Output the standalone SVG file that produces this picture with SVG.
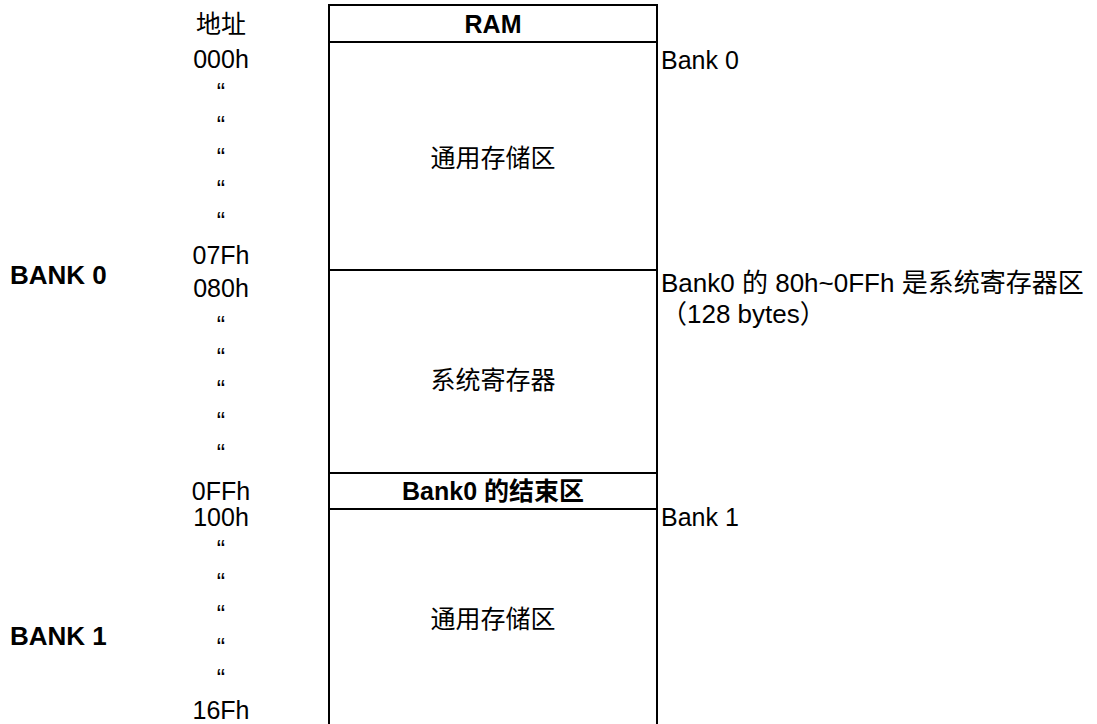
<svg xmlns="http://www.w3.org/2000/svg" width="1097" height="724" viewBox="0 0 1097 724">
<style>
text{font-family:"Liberation Sans","Noto Sans CJK SC",sans-serif;font-size:25px;fill:#000}
.b{font-weight:bold}
.c{text-anchor:middle}
.n{font-size:26px}
.ln{stroke:#000;stroke-width:2;fill:none}
</style>
<rect width="1097" height="724" fill="#fff"/>
<g id="ram-box">
<path class="ln" d="M329,724 V5 H657 V724"/>
<line class="ln" x1="329" y1="42" x2="657" y2="42"/>
<line class="ln" x1="329" y1="270" x2="657" y2="270"/>
<line class="ln" x1="329" y1="473" x2="657" y2="473"/>
<line class="ln" x1="329" y1="509" x2="657" y2="509"/>
<text class="b c" x="493" y="33">RAM</text>
</g>
<g id="general-0"><text class="c" x="493" y="167">通用存储区</text></g>
<g id="sysreg"><text class="c" x="493" y="389">系统寄存器</text></g>
<g id="bank0-end"><text class="b c" x="493" y="500">Bank0 的结束区</text></g>
<g id="general-1"><text class="c" x="493" y="628">通用存储区</text></g>
<g id="addresses">
<text class="c" x="221" y="33">地址</text>
<text class="c" x="221" y="68">000h</text>
<text class="c" x="221" y="101">“</text>
<text class="c" x="221" y="134">“</text>
<text class="c" x="221" y="166">“</text>
<text class="c" x="221" y="198">“</text>
<text class="c" x="221" y="230">“</text>
<text class="c" x="221" y="264">07Fh</text>
<text class="c" x="221" y="297">080h</text>
<text class="c" x="221" y="334">“</text>
<text class="c" x="221" y="366">“</text>
<text class="c" x="221" y="398">“</text>
<text class="c" x="221" y="430">“</text>
<text class="c" x="221" y="462">“</text>
<text class="c" x="221" y="500">0FFh</text>
<text class="c" x="221" y="526">100h</text>
<text class="c" x="221" y="558">“</text>
<text class="c" x="221" y="591">“</text>
<text class="c" x="221" y="623">“</text>
<text class="c" x="221" y="656">“</text>
<text class="c" x="221" y="687">“</text>
<text class="c" x="221" y="719">16Fh</text>
</g>
<g id="bank-labels">
<text class="b n" x="10" y="284">BANK 0</text>
<text class="b n" x="10" y="645">BANK 1</text>
</g>
<g id="notes">
<text x="661" y="69">Bank 0</text>
<text class="n" x="661" y="292">Bank0 的 80h~0FFh 是系统寄存器区</text>
<text class="n" x="661" y="323">（128 bytes）</text>
<text x="661" y="526">Bank 1</text>
</g>
</svg>
